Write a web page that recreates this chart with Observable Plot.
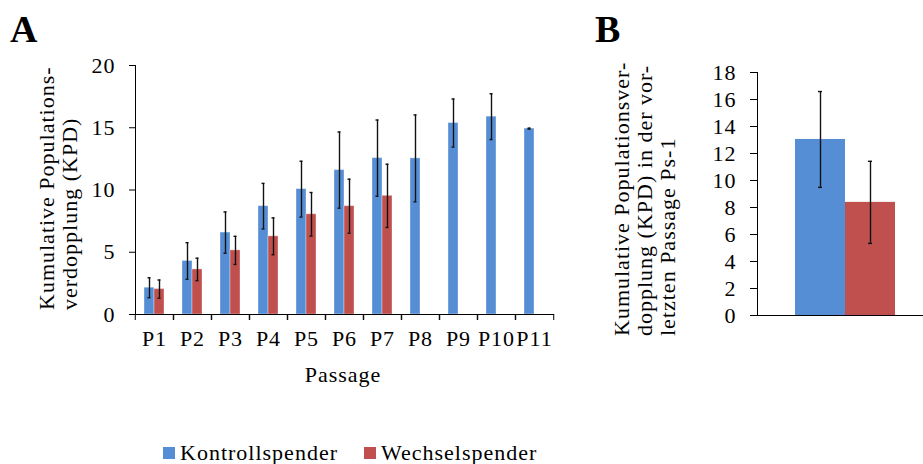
<!DOCTYPE html>
<html><head><meta charset="utf-8">
<script src="https://cdn.jsdelivr.net/npm/d3@7"></script>
<script src="https://cdn.jsdelivr.net/npm/@observablehq/plot@0.6"></script>
<style>
body{margin:0;background:#fff;overflow:hidden}
#wrap{position:relative;width:923px;height:464px;overflow:hidden}
#wrap, #wrap div, #wrap span, #wrap svg, #wrap text{font-family:"Liberation Serif" !important;letter-spacing:1px}
#a,#b,#lg,#ov{position:absolute;top:0}
#a{left:0;width:580px}
#b{left:600px;width:333px}
#lg{left:163px;top:436px;width:700px;font-size:22px !important;color:#000}
#ov{left:0;width:923px;height:464px;pointer-events:none}
#wrap svg{max-width:none !important}
.lg-swatch{margin-right:26px !important;font-size:22px !important}
.lg-swatch > svg{margin-right:5px !important}
</style></head><body><div id="wrap"><div id="a"></div><div id="b"></div><div id="lg"></div>
<svg id="ov" width="923" height="464" fill="#000">
<text x="10" y="42" font-size="38" font-weight="bold" style="letter-spacing:0">A</text>
<text x="595" y="42" font-size="38" font-weight="bold" style="letter-spacing:0">B</text>
<g font-size="22">
<text transform="translate(54,310) rotate(-90)">Kumulative Populations-</text>
<text transform="translate(77,310) rotate(-90)">verdopplung (KPD)</text>
<text x="343" y="382" text-anchor="middle">Passage</text>
<text transform="translate(629,336) rotate(-90)">Kumulative Populationsver-</text>
<text transform="translate(652,336) rotate(-90)">dopplung (KPD) in der vor-</text>
<text transform="translate(675,336) rotate(-90)">letzten Passage Ps-1</text>
</g>
</svg>
</div>
<script>
const passages = ["P1","P2","P3","P4","P5","P6","P7","P8","P9","P10","P11"];
const series = ["Kontrollspender","Wechselspender"];
const colors = ["#558ED5","#C0504D"];
const kontrollMean = [2.15, 4.3, 6.58, 8.7, 10.07, 11.6, 12.56, 12.54, 15.38, 15.89, 14.93];
const kontrollErr  = [0.8, 1.47, 1.66, 1.83, 2.24, 3.06, 3.06, 3.49, 1.93, 1.84, 0.04];
const wechselMean  = [2.04, 3.62, 5.15, 6.28, 8.05, 8.7, 9.53];
const wechselErr   = [0.73, 0.9, 1.13, 1.48, 1.75, 2.17, 2.54];
const bMean = [13.04, 8.38];
const bErr  = [3.55, 3.04];
const yTicksA = [0, 5, 10, 15, 20];
const yTicksB = [0, 2, 4, 6, 8, 10, 12, 14, 16, 18];

const rowsA = [];
passages.forEach((p, i) => {
  rowsA.push({passage: p, series: series[0], value: kontrollMean[i], err: kontrollErr[i]});
  if (i < wechselMean.length) rowsA.push({passage: p, series: series[1], value: wechselMean[i], err: wechselErr[i]});
});
const rowsB = series.map((s, i) => ({series: s, value: bMean[i], err: bErr[i]}));
const lo = d => d.value - d.err, hi = d => d.value + d.err;

const font = {fontFamily: "Liberation Serif", fontSize: "22px", color: "#000", background: "transparent", overflow: "visible"};
const WA = 580, mlA = 132, mrA = 25;
const bwA = (WA - mlA - mrA) / passages.length;
const errStroke = "#111";
const noText = () => "";

const plotA = Plot.plot({
  width: WA, height: 400, marginTop: 65, marginBottom: 86, marginLeft: mlA, marginRight: mrA,
  style: font,
  fx: {domain: passages, padding: 0, label: null},
  x: {domain: series, paddingInner: 0, paddingOuter: 0.75, axis: null},
  y: {domain: [0, 20], label: null},
  color: {domain: series, range: colors},
  marks: [
    Plot.barY(rowsA, {fx: "passage", x: "series", y: "value", fill: "series", stroke: "#fff", strokeOpacity: 0.35, strokeWidth: 1}),
    Plot.ruleX(rowsA, {fx: "passage", x: "series", y1: lo, y2: hi, stroke: errStroke, strokeWidth: 1.4}),
    Plot.tickY(rowsA, {fx: "passage", x: "series", y: lo, insetLeft: 3.5, insetRight: 3.5, stroke: errStroke, strokeWidth: 1.4}),
    Plot.tickY(rowsA, {fx: "passage", x: "series", y: hi, insetLeft: 3.5, insetRight: 3.5, stroke: errStroke, strokeWidth: 1.4}),
    Plot.frame({anchor: "bottom"}),
    Plot.frame({anchor: "left", facetAnchor: "left"}),
    Plot.axisY({ticks: yTicksA, tickSize: 6, tickPadding: 14, label: null}),
    Plot.axisFx({anchor: "bottom", tickSize: 0, tickPadding: 16, label: null}),
    Plot.axisFx({anchor: "bottom", tickFormat: noText, tickSize: 6, dx: -bwA / 2, label: null}),
    Plot.axisFx([passages[passages.length - 1]], {anchor: "bottom", tickFormat: noText, tickSize: 6, dx: bwA / 2, label: null})
  ]
});
document.getElementById("a").appendChild(plotA);

const plotB = Plot.plot({
  width: 333, height: 330, marginTop: 72, marginBottom: 15, marginLeft: 157, marginRight: 0,
  style: font,
  x: {domain: series, paddingInner: 0, paddingOuter: 0.76, axis: null},
  y: {domain: [0, 18], label: null},
  color: {domain: series, range: colors},
  marks: [
    Plot.barY(rowsB, {x: "series", y: "value", fill: "series"}),
    Plot.ruleX(rowsB, {x: "series", y1: lo, y2: hi, stroke: errStroke, strokeWidth: 1.4}),
    Plot.tickY(rowsB, {x: "series", y: lo, insetLeft: 23, insetRight: 23, stroke: errStroke, strokeWidth: 1.4}),
    Plot.tickY(rowsB, {x: "series", y: hi, insetLeft: 23, insetRight: 23, stroke: errStroke, strokeWidth: 1.4}),
    Plot.frame({anchor: "bottom"}),
    Plot.frame({anchor: "left"}),
    Plot.axisY({ticks: yTicksB, tickSize: 7, tickPadding: 14, label: null})
  ]
});
document.getElementById("b").appendChild(plotB);

const lg = Plot.legend({color: {domain: series, range: colors}, className: "lg", swatchSize: 12,
  style: {fontFamily: "Liberation Serif", fontSize: "22px", color: "#000"}});
document.getElementById("lg").appendChild(lg);
</script></body></html>
